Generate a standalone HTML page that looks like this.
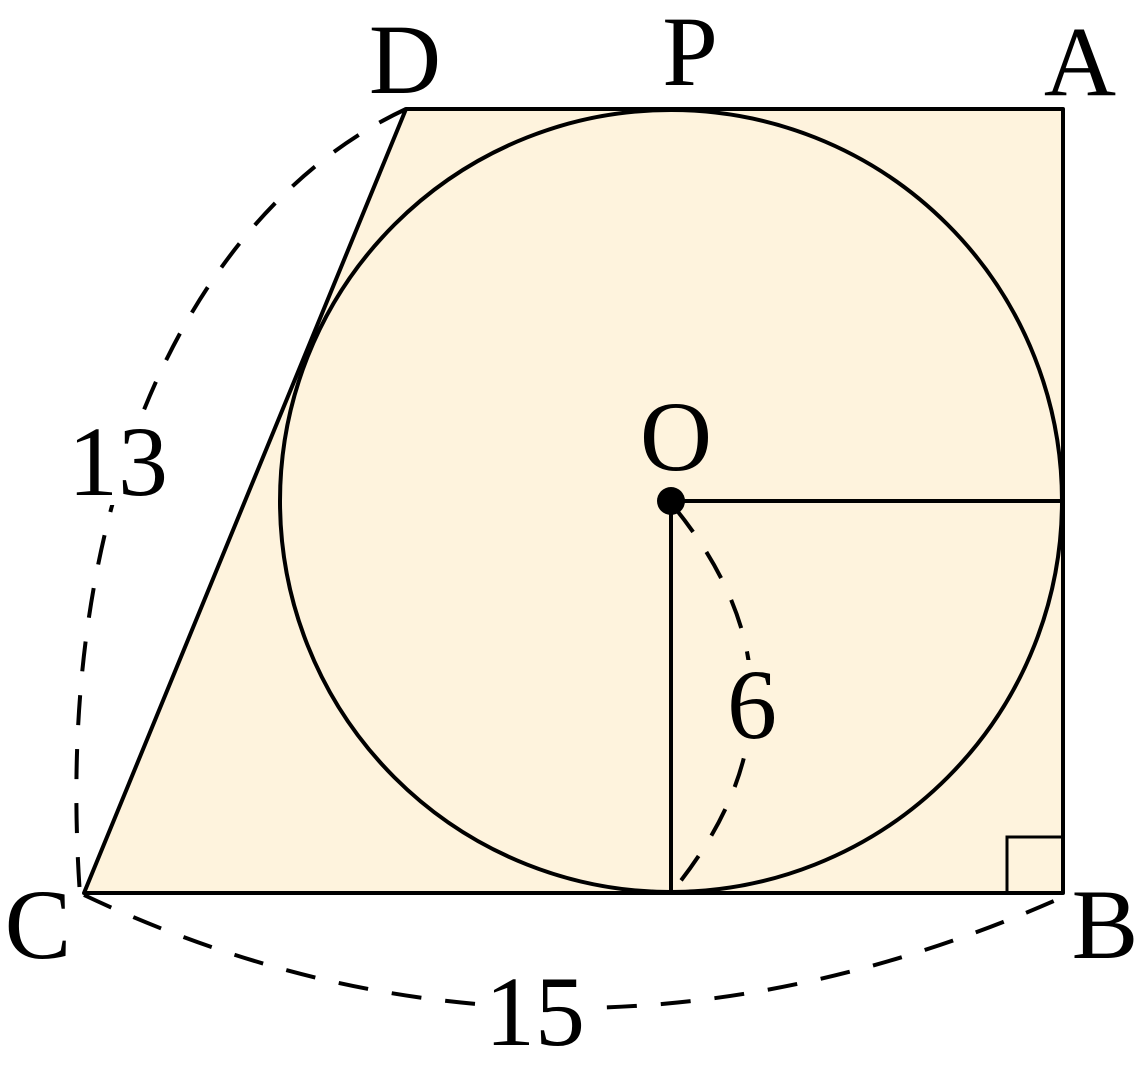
<!DOCTYPE html>
<html><head><meta charset="utf-8"><style>
html,body{margin:0;padding:0;background:#fff;}
svg{display:block;}
text{font-family:"Liberation Serif",serif;fill:#000;}
</style></head><body>
<svg width="1139" height="1072" viewBox="0 0 1139 1072" xmlns="http://www.w3.org/2000/svg">
<polygon points="406,109 1063,109 1063,893 84,893" fill="#fef3dd" stroke="#000" stroke-width="4" stroke-linejoin="round"/>
<ellipse cx="671" cy="501" rx="391" ry="391" fill="none" stroke="#000" stroke-width="4"/>
<line x1="671" y1="501" x2="1062" y2="501" stroke="#000" stroke-width="4"/>
<line x1="671" y1="501" x2="671" y2="893" stroke="#000" stroke-width="4"/>
<circle cx="671" cy="501" r="14" fill="#000"/>
<polyline points="1007,893 1007,837 1063,837" fill="none" stroke="#000" stroke-width="3"/>
<g fill="none" stroke="#000" stroke-width="4" stroke-dasharray="30,24">
<path d="M 406,109 C 210,200 50,470 80,895"/>
<path d="M 84,895 Q 560,1120 1063,897"/>
<path d="M 675,508 Q 830,700 671,893"/>
</g>
<rect x="70" y="425" width="100" height="80" fill="#fff"/>
<rect x="480" y="975" width="110" height="75" fill="#fff"/>
<rect x="722" y="660" width="62" height="90" fill="#fef3dd"/>
<g font-size="100" text-anchor="middle">
<text x="405" y="93">D</text>
<text x="690" y="85">P</text>
<text x="1080" y="95">A</text>
<text x="676" y="470">O</text>
<text x="38" y="958">C</text>
<text x="1105" y="958">B</text>
<text x="118" y="495">13</text>
<text x="535" y="1045">15</text>
<text x="752" y="738">6</text>
</g>
</svg>
</body></html>
